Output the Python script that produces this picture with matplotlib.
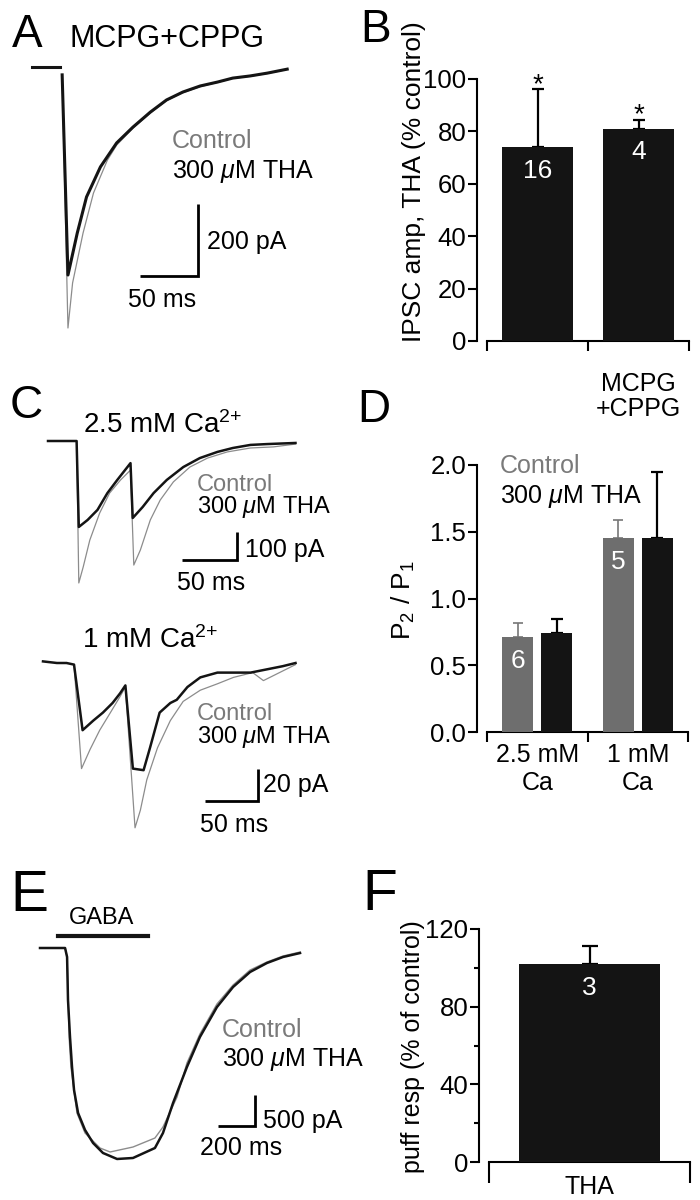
import matplotlib
matplotlib.use('Agg')
import matplotlib.pyplot as plt

plt.rcParams['font.family'] = ['Liberation Sans', 'DejaVu Sans']
plt.rcParams['mathtext.fontset'] = 'custom'
plt.rcParams['mathtext.rm'] = 'Liberation Sans'
plt.rcParams['mathtext.it'] = 'Liberation Sans:italic'

# ---- data (time in ms, current in pA) ----
# A: MCPG+CPPG, evoked IPSC
a_base_t = [0, 24]
a_tha_t = [26, 31, 39, 47, 59, 73, 87, 102, 116, 130, 145, 160, 173, 188, 203, 220]
a_tha_i = [-22, -581, -464, -363, -279, -212, -168, -126, -92, -70, -53, -42, -31, -25, -17, -6]
a_ctl_t = [26, 31, 35, 44, 53, 65, 73, 87, 102, 116, 130, 145, 160, 173, 188, 203, 220]
a_ctl_i = [-22, -729, -603, -464, -352, -260, -218, -171, -129, -94, -72, -55, -43, -32, -26, -18, -7]

# B: IPSC amplitude in THA (% control)
b_labels = ['', 'MCPG\n+CPPG']
b_vals = [74, 81]
b_err = [22, 3.5]
b_n = ['16', '4']

# C top: 2.5 mM Ca, paired pulse
c1_tha_t = [0, 26, 28, 36, 45, 54, 63, 75, 77, 86, 96, 108, 123, 138, 154, 168, 184, 199, 225]
c1_tha_i = [0, 0, -307, -282, -246, -186, -139, -79, -275, -236, -186, -139, -93, -61, -39, -25, -14, -11, -7]
c1_ctl_t = [26, 28, 32, 38, 47, 56, 66, 75, 78, 84, 93, 102, 114, 129, 145, 163, 184, 205, 225]
c1_ctl_i = [0, -507, -450, -354, -257, -186, -139, -104, -443, -389, -282, -211, -146, -93, -61, -39, -25, -21, -11]

# C bottom: 1 mM Ca, paired pulse
c2_tha_t = [0, 13, 22, 29, 37, 47, 56, 65, 72, 77, 84, 94, 100, 109, 119, 125, 135, 147, 163, 178, 194, 209, 224, 236]
c2_tha_i = [1, 0, 0, -1, -42, -36, -31, -25, -19, -14, -66, -67, -53, -31, -25, -23, -15, -9, -6, -6, -6, -4, -2, 0]
c2_ctl_t = [29, 36, 44, 53, 63, 72, 77, 86, 91, 97, 107, 119, 131, 147, 163, 178, 196, 206, 215, 236]
c2_ctl_i = [-1, -66, -54, -42, -31, -21, -15, -103, -92, -73, -53, -36, -24, -17, -13, -9, -6, -11, -8, -1]

# D: paired-pulse ratio
d_groups = ['2.5 mM\nCa', '1 mM\nCa']
d_ctl = [0.71, 1.45]
d_ctl_err = [0.11, 0.14]
d_tha = [0.74, 1.45]
d_tha_err = [0.11, 0.50]
d_n = ['6', '5']

# E: GABA puff response
e_gaba = [98, 590]
e_tha_t = [0, 137, 148, 153, 164, 175, 186, 208, 246, 290, 344, 421, 508, 628, 672, 727, 803, 874, 967, 1055, 1148, 1240, 1328, 1421]
e_tha_i = [0, 0, -145, -839, -1435, -1919, -2290, -2661, -2935, -3145, -3306, -3403, -3387, -3226, -2984, -2500, -1919, -1435, -952, -629, -387, -242, -145, -81]
e_ctl_t = [137, 148, 159, 169, 202, 246, 328, 383, 508, 628, 672, 749, 803, 874, 967, 1055, 1148, 1240, 1328, 1421]
e_ctl_i = [0, -145, -1435, -1919, -2661, -2984, -3226, -3290, -3210, -3065, -2887, -2403, -1855, -1387, -903, -597, -355, -226, -129, -65]

# F: puff response in THA (% of control)
f_labels = ['THA']
f_vals = [102]
f_err = [9]
f_n = ['3']

W, H = 700, 1200
BLACK = '#141414'
GRAY = '#8c8c8c'
LEG_GRAY = '#7a7a7a'

fig = plt.figure(figsize=(7, 12), dpi=100)
fig.patch.set_facecolor('white')


def label(x, y, s, size=18, color='k', ha='left', va='baseline', **kw):
    fig.text(x / W, 1 - y / H, s, fontsize=size, color=color, ha=ha, va=va, **kw)


def trace_axes(box, origin, px_ms, px_pa):
    l, t, r, b = box
    x0, y0 = origin
    ax = fig.add_axes([l / W, 1 - b / H, (r - l) / W, (b - t) / H])
    ax.set_xlim((l - x0) / px_ms, (r - x0) / px_ms)
    ax.set_ylim(-(b - y0) / px_pa, (y0 - t) / px_pa)
    ax.axis('off')
    return ax


def scale_bar(ax, t, i, dt, di):
    ax.plot([t - dt, t, t], [i, i, i + di], color='k', lw=2, clip_on=False,
            solid_joinstyle='miter', solid_capstyle='butt')


def bar_axes(box, ylim, n):
    l, t, r, b = box
    ax = fig.add_axes([l / W, 1 - b / H, (r - l) / W, (b - t) / H])
    ax.set_xlim(0, n)
    ax.set_ylim(*ylim)
    ax.set_facecolor('none')
    for s in ['top', 'right']:
        ax.spines[s].set_visible(False)
    ax.spines['left'].set_position(('outward', 7))
    ax.spines['left'].set_linewidth(1.5)
    ax.spines['bottom'].set_linewidth(1.5)
    ax.tick_params(axis='y', direction='out', length=6.5, width=1.5, labelsize=18.5, pad=1.5)
    ax.set_xticks(range(n + 1))
    ax.set_xticklabels([])
    ax.tick_params(axis='x', which='major', direction='out', length=7, width=1.5)
    ax.tick_params(axis='x', which='minor', length=0, labelsize=18)
    return ax


def n_label(ax, x, top, s):
    ax.annotate(s, (x, top), xytext=(0, -17), textcoords='offset points',
                ha='center', va='center', color='white', fontsize=19)


# ---------- A ----------
ax = trace_axes((20, 55, 320, 340), (32, 67), 1.16, 0.358)
ax.plot(a_base_t, [0, 0], color=BLACK, lw=2.2, clip_on=False)
ax.plot(a_ctl_t, a_ctl_i, color=GRAY, lw=0.9, clip_on=False)
ax.plot(a_tha_t, a_tha_i, color=BLACK, lw=2.2, clip_on=False)
scale_bar(ax, 143, -584, 50, 200)
label(12, 47, 'A', size=33)
label(70, 47, 'MCPG+CPPG', size=22)
label(172, 148, 'Control', color=LEG_GRAY)
label(172, 178, r'300 $\mu$M THA')
label(207, 249, '200 pA')
label(128, 307, '50 ms')

# ---------- B ----------
ax = bar_axes((487, 79, 689, 341), (0, 100), 2)
xs = [0.5, 1.5]
ax.bar(xs, b_vals, width=0.7, color=BLACK, zorder=3)
ax.errorbar(xs, b_vals, yerr=[[0, 0], b_err], fmt='none', ecolor='k',
            elinewidth=1.6, capsize=4.5, capthick=1.6, zorder=2)
for x, v, e, s in zip(xs, b_vals, b_err, b_n):
    n_label(ax, x, v, s)
    ax.annotate('*', (x, v + e), xytext=(0, -2), textcoords='offset points',
                ha='center', va='baseline', fontsize=20, annotation_clip=False)
ax.set_yticks(range(0, 101, 20))
ax.set_xticks(xs, minor=True)
ax.set_xticklabels(b_labels, minor=True)
ax.tick_params(axis='x', which='minor', pad=22)
for t in ax.get_xticklabels(minor=True):
    t.set_linespacing(1.05)
label(360, 42, 'B', size=33)
label(414, 182, 'IPSC amp, THA (% control)', size=19, ha='center', va='center', rotation=90)

# ---------- C ----------
ax = trace_axes((30, 430, 320, 600), (48, 441), 1.10, 0.28)
ax.plot(c1_ctl_t, c1_ctl_i, color=GRAY, lw=0.9, clip_on=False)
ax.plot(c1_tha_t, c1_tha_i, color=BLACK, lw=1.8, clip_on=False)
scale_bar(ax, 172, -425, 50, 100)
label(10, 418, 'C', size=33)
label(83, 433, r'2.5 mM Ca$^{2{+}}$', size=20)
label(197, 491, 'Control', size=17, color=LEG_GRAY)
label(197, 513, r'300 $\mu$M THA', size=17)
label(245, 557, '100 pA')
label(177, 590, '50 ms')

ax = trace_axes((30, 650, 320, 840), (43, 663), 1.07, 1.6)
ax.plot(c2_ctl_t, c2_ctl_i, color=GRAY, lw=0.9, clip_on=False)
ax.plot(c2_tha_t, c2_tha_i, color=BLACK, lw=1.8, clip_on=False)
scale_bar(ax, 201, -86, 50, 20)
label(82, 648, r'1 mM Ca$^{2{+}}$', size=20)
label(197, 720, 'Control', size=17, color=LEG_GRAY)
label(197, 743, r'300 $\mu$M THA', size=17)
label(263, 792, '20 pA')
label(200, 832, '50 ms')

# ---------- D ----------
ax = bar_axes((487, 465, 688, 732), (0, 2.0), 2)
gx = [0.5, 1.5]
cx = [g - 0.195 for g in gx]
tx = [g + 0.195 for g in gx]
ax.bar(cx, d_ctl, width=0.31, color='#6e6e6e', zorder=3)
ax.bar(tx, d_tha, width=0.31, color=BLACK, zorder=3)
ax.errorbar(cx, d_ctl, yerr=[[0, 0], d_ctl_err], fmt='none', ecolor='#777777',
            elinewidth=1.2, capsize=3.5, capthick=1.2, zorder=2)
ax.errorbar(tx, d_tha, yerr=[[0, 0], d_tha_err], fmt='none', ecolor='k',
            elinewidth=1.6, capsize=4.5, capthick=1.6, zorder=2)
for x, v, s in zip(cx, d_ctl, d_n):
    n_label(ax, x, v, s)
ax.set_yticks([0, 0.5, 1.0, 1.5, 2.0])
ax.set_yticklabels(['0.0', '0.5', '1.0', '1.5', '2.0'])
ax.set_xticks(gx, minor=True)
ax.set_xticklabels(d_groups, minor=True)
ax.tick_params(axis='x', which='minor', pad=8)
label(357, 422, 'D', size=33)
label(500, 473, 'Control', color=LEG_GRAY)
label(500, 503, r'300 $\mu$M THA')
label(403, 600, r'P$_2$ / P$_1$', size=19, ha='center', va='center', rotation=90)

# ---------- E ----------
ax = trace_axes((30, 920, 320, 1170), (40, 948), 0.183, 0.062)
ax.plot(e_gaba, [194, 194], color=BLACK, lw=3, clip_on=False)
ax.plot(e_ctl_t, e_ctl_i, color=GRAY, lw=1.0, clip_on=False)
ax.plot(e_tha_t, e_tha_i, color=BLACK, lw=1.8, clip_on=False)
scale_bar(ax, 1175, -2871, 200, 500)
label(10, 911, 'E', size=41)
label(102, 924, 'GABA', size=17, ha='center')
label(222, 1037, 'Control', color=LEG_GRAY)
label(222, 1066, r'300 $\mu$M THA')
label(263, 1128, '500 pA')
label(200, 1155, '200 ms')

# ---------- F ----------
ax = bar_axes((489, 929, 690, 1162), (0, 120), 1)
ax.bar([0.5], f_vals, width=0.7, color=BLACK, zorder=3)
ax.errorbar([0.5], f_vals, yerr=[[0], f_err], fmt='none', ecolor='k',
            elinewidth=1.6, capsize=5.5, capthick=1.6, zorder=2)
n_label(ax, 0.5, f_vals[0], f_n[0])
ax.set_yticks([0, 40, 80, 120])
ax.set_yticks([20, 60, 100], minor=True)
ax.tick_params(axis='y', which='minor', direction='out', length=3.5, width=1.5)
ax.tick_params(axis='x', which='major', length=15)
ax.set_xticks([0.5], minor=True)
ax.set_xticklabels(f_labels, minor=True)
ax.tick_params(axis='x', which='minor', pad=9)
label(362, 910, 'F', size=41)
label(413, 1047, 'puff resp (% of control)', size=18, ha='center', va='center', rotation=90)

fig.savefig('out.png', dpi=100)
